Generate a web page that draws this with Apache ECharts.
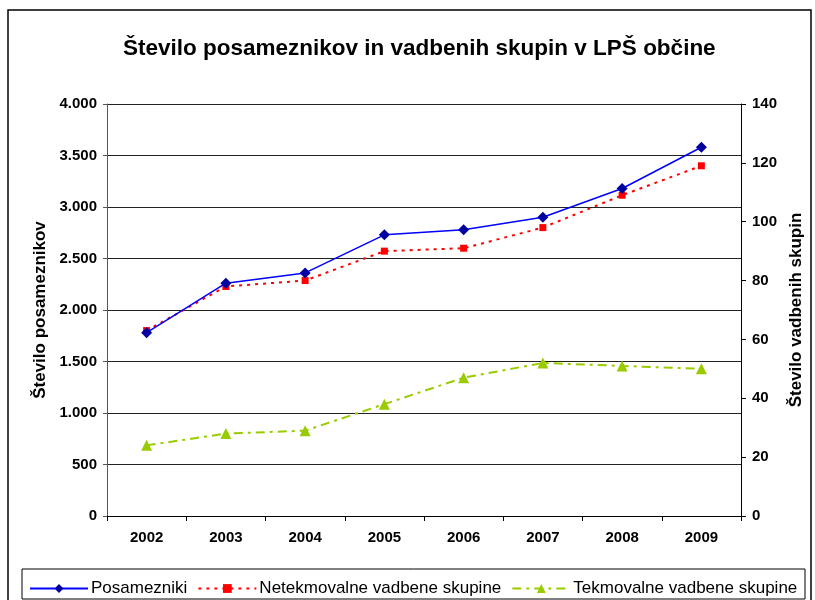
<!DOCTYPE html>
<html>
<head>
<meta charset="utf-8">
<script src="https://cdn.jsdelivr.net/npm/echarts@6/dist/echarts.min.js"></script>
<style>
  html, body { margin: 0; padding: 0; background: #fff; }
  #chart { width: 815px; height: 600px; }
</style>
</head>
<body>
<div id="chart"></div>
<script>
// podatki odčitani z grafa
const years = ['2002', '2003', '2004', '2005', '2006', '2007', '2008', '2009'];
const posamezniki = [1780, 2260, 2360, 2730, 2780, 2900, 3180, 3580];
const netekmovalne = [63, 78, 80, 90, 91, 98, 109, 119];
const tekmovalne = [24, 28, 29, 38, 47, 52, 51, 50];

const FONT = '"Liberation Sans", Arial, sans-serif';

function thousands(v) {
  return String(v).replace(/\B(?=(\d{3})+(?!\d))/g, '.');
}

const chart = echarts.init(document.getElementById('chart'));

chart.setOption({
  animation: false,
  textStyle: { fontFamily: FONT, color: '#000' },
  title: {
    text: 'Število posameznikov in vadbenih skupin v LPŠ občine',
    left: 118,
    top: 32,
    textStyle: { fontFamily: FONT, fontSize: 22.5, fontWeight: 'bold', color: '#000' }
  },
  // okvir grafa in okvir legende
  graphic: [
    { type: 'rect', shape: { x: 8, y: 10, width: 803, height: 600 }, style: { fill: 'none', stroke: '#000', lineWidth: 1.5 }, silent: true },
    { type: 'rect', shape: { x: 22, y: 569, width: 783, height: 30 }, style: { fill: 'none', stroke: '#000', lineWidth: 1 }, silent: true }
  ],
  legend: {
    left: 24,
    top: 575,
    itemWidth: 58,
    itemHeight: 11,
    itemGap: 10,
    textStyle: { fontFamily: FONT, fontSize: 17, color: '#000', padding: [0, 0, 0, -2] },
    data: ['Posamezniki', 'Netekmovalne vadbene skupine', 'Tekmovalne vadbene skupine']
  },
  grid: { left: 107, right: 74, top: 104, bottom: 84, containLabel: false },
  xAxis: {
    type: 'category',
    data: years,
    boundaryGap: true,
    axisLine: { lineStyle: { color: '#000', width: 1 } },
    axisTick: { show: true, length: 5, lineStyle: { color: '#000' } },
    axisLabel: { fontFamily: FONT, fontSize: 15, fontWeight: 'bold', color: '#000', margin: 14 }
  },
  yAxis: [
    {
      type: 'value',
      min: 0, max: 4000, interval: 500,
      name: 'Število posameznikov',
      nameLocation: 'middle',
      nameGap: 58,
      nameTextStyle: { fontFamily: FONT, fontSize: 17, fontWeight: 'bold', color: '#000' },
      axisLine: { show: true, lineStyle: { color: '#555', width: 1 } },
      axisTick: { show: true, length: 4, lineStyle: { color: '#555' } },
      axisLabel: { fontFamily: FONT, fontSize: 15, fontWeight: 'bold', color: '#000', margin: 10, formatter: thousands },
      splitLine: { show: true, lineStyle: { color: '#222', width: 1 } }
    },
    {
      type: 'value',
      min: 0, max: 140, interval: 20,
      position: 'right',
      name: 'Število vadbenih skupin',
      nameLocation: 'middle',
      nameGap: 43,
      nameRotate: 90,
      nameTextStyle: { fontFamily: FONT, fontSize: 17, fontWeight: 'bold', color: '#000' },
      axisLine: { show: true, lineStyle: { color: '#000', width: 1 } },
      axisTick: { show: true, length: 5, lineStyle: { color: '#000' } },
      axisLabel: { fontFamily: FONT, fontSize: 15, fontWeight: 'bold', color: '#000', margin: 11 },
      splitLine: { show: false }
    }
  ],
  series: [
    {
      name: 'Posamezniki',
      type: 'line',
      yAxisIndex: 0,
      data: posamezniki,
      symbol: 'diamond',
      symbolSize: 11,
      itemStyle: { color: '#0000A0' },
      lineStyle: { color: '#0000FF', width: 1.5, type: 'solid' },
      z: 4
    },
    {
      name: 'Netekmovalne vadbene skupine',
      type: 'line',
      yAxisIndex: 1,
      data: netekmovalne,
      symbol: 'rect',
      symbolSize: 7,
      itemStyle: { color: '#FF0000' },
      lineStyle: { color: '#FF0000', width: 2, type: [3, 5] },
      z: 3
    },
    {
      name: 'Tekmovalne vadbene skupine',
      type: 'line',
      yAxisIndex: 1,
      data: tekmovalne,
      symbol: 'triangle',
      symbolSize: 11,
      itemStyle: { color: '#99CC00' },
      lineStyle: { color: '#99CC00', width: 2, type: [9, 5, 3, 5] },
      z: 2
    }
  ]
});
</script>
</body>
</html>
